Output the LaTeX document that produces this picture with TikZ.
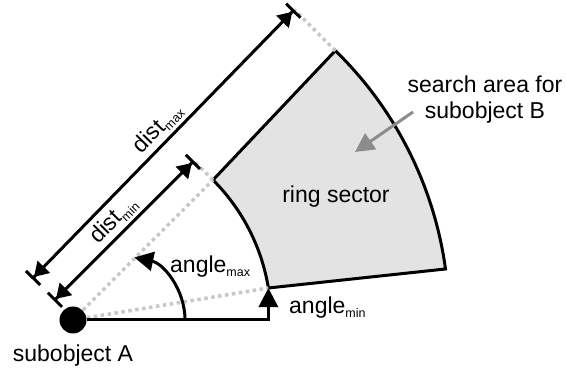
\documentclass[tikz,border=0pt]{standalone}
\usepackage{fontspec}
\setmainfont{Liberation Sans}
\usetikzlibrary{arrows.meta, positioning, calc}

\newcommand{\lowidx}[1]{\raisebox{-4pt}{\fontsize{12.5}{13}\selectfont #1}}

\begin{document}
\begin{tikzpicture}[x=1pt, y=1pt, >={Triangle[length=19pt, width=19pt]},
    thickline/.style={line width=3pt},
    guide/.style={line width=3.5pt, black!22, dash pattern=on 3.5pt off 3.5pt},
    dimline/.style={line width=3pt,
      {Bar[width=20pt]Triangle[length=14pt, width=17pt]}-{Triangle[length=14pt, width=17pt]Bar[width=20pt]}},
    lbl/.style={font=\fontsize{23}{26}\selectfont, inner sep=0pt}]
  \useasboundingbox (-73,-52) rectangle (493,320);

  % corners of the ring sector
  \coordinate (O) at (0,0);
  \coordinate (inA) at (45:198);
  \coordinate (inB) at (9.3:198);
  \coordinate (outA) at (45.75:376);
  \coordinate (outB) at (7.8:376);

  % ends of the distance lines
  \coordinate (dminS) at ($(O)+(135:27)$);
  \coordinate (dminE) at ($(inA)+(135:27)$);
  \coordinate (dmaxS) at ($(O)+(135:58)$);
  \coordinate (dmaxE) at ($(outA)+(135:58)$);

  % ring sector
  \draw[thickline, fill=black!11] (inB) -- (outB)
    arc[start angle=7.8, end angle=45.75, radius=376pt] -- (inA)
    arc[start angle=45, end angle=9.3, radius=198pt] -- cycle;
  \node[lbl] (sector) at (263,123) {ring sector};

  % guide lines
  \draw[guide] (O) -- (inA);
  \draw[guide] (O) -- (inB);
  \draw[guide] (inA) -- (dminE);
  \draw[guide] (outA) -- (dmaxE);

  % subobject A
  \node[circle, fill, minimum size=27pt, inner sep=0pt] (A) at (O) {};
  \node[lbl] (Alabel) at (0,-36) {subobject A};

  % distances
  \draw[dimline] (dminS) -- (dminE)
    node[lbl, midway, sloped, above=3pt] {dist\lowidx{min}};
  \draw[dimline] (dmaxS) -- (dmaxE)
    node[lbl, pos=0.52, sloped, above=3pt] {dist\lowidx{max}};

  % angles
  \coordinate (amax) at (112,0);
  \draw[thickline, ->] (amax) arc[start angle=0, end angle=78, radius=64pt];
  \node[lbl, anchor=base west] (amaxlabel) at (97,47) {angle\lowidx{max}};
  \draw[thickline, ->] (A) -- (inB |- O) -- (inB);
  \node[lbl, anchor=base west] (aminlabel) at (216,6) {angle\lowidx{min}};

  % search area
  \node[lbl, align=center] (search) at (412,220) {search area for\\subobject B};
  \coordinate (pointer) at (340,208);
  \coordinate (pointtip) at (282,168);
  \draw[thickline, black!45, ->] (pointer) -- (pointtip);
\end{tikzpicture}
\end{document}
